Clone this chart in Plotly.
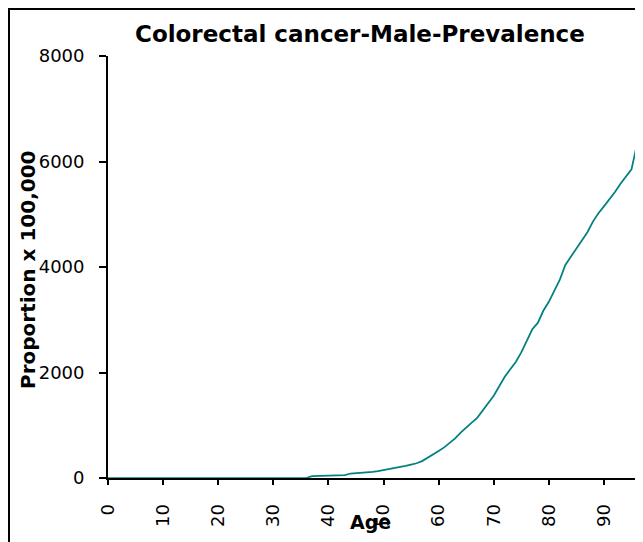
import plotly.graph_objects as go

# Data
ages = list(range(0, 97))
prevalence = (
    [0] * 37
    + [35, 40, 40, 42, 45, 50, 55, 85, 90, 95,
       105, 115, 130, 150, 165, 180, 205, 230, 255, 280,
       320, 380, 450, 510, 580, 660, 750, 860, 960, 1050,
       1140, 1280, 1440, 1560, 1740, 1920, 2060, 2200, 2380, 2600,
       2820, 2940, 3170, 3340, 3560, 3760, 4040, 4190, 4360, 4500,
       4660, 4860, 5020, 5150, 5280, 5420, 5580, 5720, 5850, 6330]
)
x_ticks = list(range(0, 100, 10))
y_ticks = [0, 2000, 4000, 6000, 8000]

title_text = "Colorectal cancer-Male-Prevalence"
x_title = "Age"
y_title = "Proportion x 100,000"

FONT = "DejaVu Sans"

# The page body adds an 8px offset, so the figure is sized to fit the window
W, H = 635, 534
L, R, T, B = 100, 6, 48, 64
PW, PH = W - L - R, H - T - B


def px(x):  # figure pixel -> paper x
    return (x - L) / PW


def py(y):  # figure pixel -> paper y
    return (H - B - y) / PH


fig = go.Figure()
fig.add_trace(go.Scatter(
    x=ages, y=prevalence, mode="lines",
    line=dict(color="#008080", width=1.75),
    showlegend=False, hoverinfo="x+y",
))

fig.update_layout(
    width=W, height=H,
    margin=dict(l=L, r=R, t=T, b=B),
    paper_bgcolor="white", plot_bgcolor="white",
    font=dict(family=FONT, size=18, color="black"),
    showlegend=False,
)

fig.update_xaxes(
    range=[0, 96], tickvals=x_ticks, ticktext=[str(v) for v in x_ticks],
    tickangle=-90, ticks="outside", ticklen=5, tickwidth=1.5, tickcolor="black",
    showline=True, linecolor="black", linewidth=1.75,
    showgrid=False, zeroline=False, ticklabelstandoff=12, automargin=False,
    tickfont=dict(family=FONT, size=18, color="black"),
)
fig.update_yaxes(
    range=[0, 8000], tickvals=y_ticks, ticktext=[str(v) for v in y_ticks],
    ticks="outside", ticklen=7, tickwidth=1.5, tickcolor="black",
    showline=True, linecolor="black", linewidth=1.75,
    showgrid=False, zeroline=False, ticklabelstandoff=11, automargin=False,
    tickfont=dict(family=FONT, size=18, color="black"),
)

fig.add_annotation(
    text="<b>" + title_text + "</b>", xref="paper", yref="paper",
    x=px(352), y=py(26), xanchor="center", yanchor="middle",
    showarrow=False, font=dict(family=FONT, size=23, color="black"),
)
fig.add_annotation(
    text="<b>" + x_title + "</b>", xref="paper", yref="paper",
    x=px(362), y=py(514), xanchor="center", yanchor="middle",
    showarrow=False, font=dict(family=FONT, size=19, color="black"),
)
fig.add_annotation(
    text="<b>" + y_title + "</b>", xref="paper", yref="paper",
    x=px(20), y=py(262), xanchor="center", yanchor="middle",
    textangle=-90, showarrow=False, font=dict(family=FONT, size=20, color="black"),
)

# Outer frame around the figure
fig.add_shape(
    type="rect", xref="paper", yref="paper",
    x0=px(1), x1=px(W + 20), y0=py(H + 20), y1=py(1),
    line=dict(color="black", width=2), fillcolor="rgba(0,0,0,0)", layer="above",
)

fig.write_html("out.html")
